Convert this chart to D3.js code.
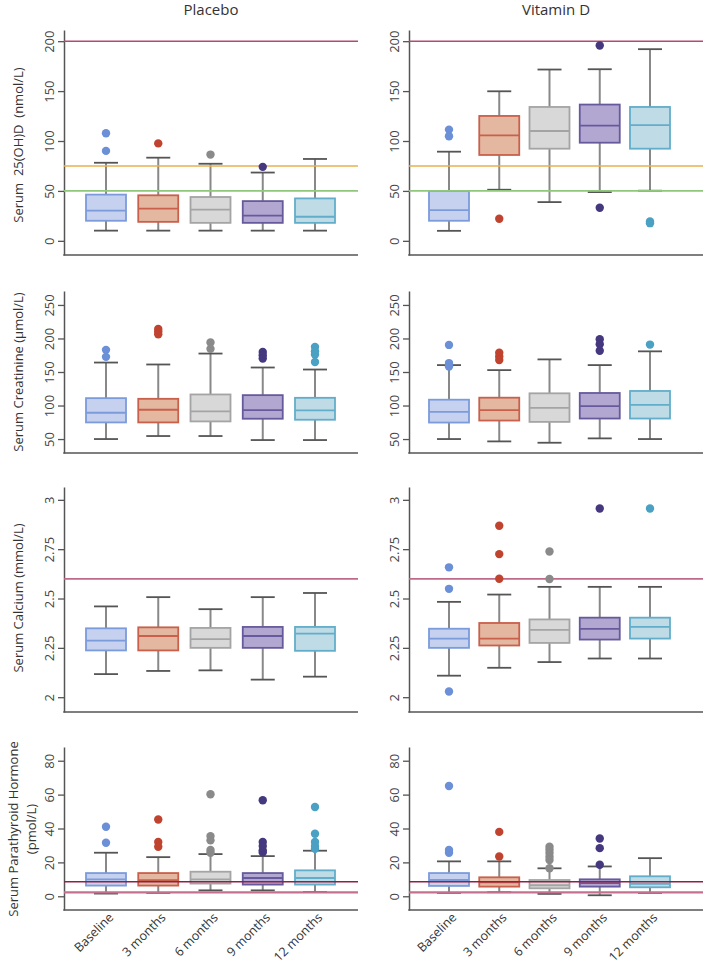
<!DOCTYPE html>
<html>
<head>
<meta charset="utf-8">
<script src="https://cdn.jsdelivr.net/npm/d3@7"></script>
<style>
  html, body { margin: 0; padding: 0; background: #fff; }
  svg { display: block; font-family: "Open Sans", "Noto Sans", sans-serif; }
</style>
</head>
<body>
<svg id="chart" width="703" height="967"></svg>
<script>
// ---------------- DATA ----------------
const categories = ["Baseline", "3 months", "6 months", "9 months", "12 months"];
const groups = ["Placebo", "Vitamin D"];
const measures = ["Serum  25(OH)D  (nmol/L)", "Serum Creatinine (\u03bcmol/L)", "Serum Calcium (mmol/L)", "Serum Parathyroid Hormone|(pmol/L)"];

// box stats per category: [lower whisker, Q1, median, Q3, upper whisker]
const vitdPlacebo = [[10.2, 20.1, 30.3, 46.3, 78.2], [10.2, 19.0, 32.3, 45.6, 83.3], [10.2, 18.0, 31.3, 43.9, 77.2], [10.2, 18.0, 25.2, 39.8, 68.4], [10.2, 18.0, 24.1, 42.5, 82.0]];
const vitdPlaceboOut = [[107.8, 90.1], [97.6], [86.4], [74.1], []];
const vitdTreated = [[10.0, 20.1, 30.8, 49.8, 89.3], [51.2, 86.0, 105.7, 125.1, 149.8], [38.8, 92.3, 110.0, 134.1, 171.6], [48.8, 98.3, 115.4, 136.5, 171.9], [50.2, 92.3, 116.0, 134.1, 192.0]];
const vitdTreatedOut = [[111.4, 104.7], [22.1], [], [195.7, 33.1], [19.4, 17.7]];

const creatPlacebo = [[50.0, 74.8, 89.2, 111.0, 164.1], [54.5, 74.8, 93.7, 110.0, 161.2], [54.5, 76.3, 91.2, 116.5, 177.5], [48.5, 80.3, 93.2, 115.5, 156.7], [48.5, 78.8, 92.7, 111.5, 153.7]];
const creatPlaceboOut = [[183.0, 172.6], [214.3, 210.3, 206.3], [194.0, 184.5], [180.0, 175.0, 170.1], [187.5, 181.0, 176.0, 165.0]];
const creatTreated = [[50.0, 74.6, 90.6, 108.7, 160.3], [46.5, 77.6, 93.1, 111.7, 152.8], [44.5, 75.6, 96.6, 118.2, 168.8], [51.0, 80.6, 99.1, 118.7, 160.3], [50.0, 80.6, 101.1, 121.7, 180.8]];
const creatTreatedOut = [[190.4, 163.3, 158.3], [178.8, 173.3, 167.8], [], [198.9, 191.4, 181.8], [190.9]];

const calcPlacebo = [[2.117, 2.237, 2.287, 2.349, 2.460], [2.133, 2.237, 2.310, 2.354, 2.507], [2.136, 2.250, 2.294, 2.351, 2.446], [2.089, 2.250, 2.310, 2.356, 2.507], [2.104, 2.235, 2.322, 2.356, 2.528]];
const calcPlaceboOut = [[], [], [], [], []];
const calcTreated = [[2.109, 2.250, 2.297, 2.347, 2.483], [2.149, 2.262, 2.297, 2.376, 2.520], [2.178, 2.275, 2.341, 2.394, 2.559], [2.196, 2.292, 2.346, 2.403, 2.559], [2.196, 2.297, 2.356, 2.403, 2.559]];
const calcTreatedOut = [[2.658, 2.549, 2.029], [2.869, 2.725, 2.600], [2.738, 2.599], [2.956], [2.956]];

const pthPlacebo = [[1.6, 6.3, 10.0, 13.7, 25.7], [2.0, 6.3, 9.5, 13.7, 23.1], [3.5, 7.5, 10.0, 14.5, 24.9], [3.5, 6.9, 10.8, 13.7, 23.7], [2.5, 6.9, 10.8, 15.3, 26.9]];
const pthPlaceboOut = [[41.0, 31.6], [45.3, 32.0, 29.2], [60.2, 35.5, 33.0, 27.3, 25.7], [56.7, 32.0, 29.6, 27.1, 25.9], [52.7, 36.9, 32.0, 29.6, 28.0]];
const pthTreated = [[2.0, 6.1, 9.6, 13.7, 20.6], [2.4, 5.7, 8.2, 11.2, 20.6], [1.4, 4.7, 6.5, 9.6, 16.5], [0.6, 5.7, 7.8, 10.0, 17.6], [2.0, 5.3, 7.3, 11.8, 22.5]];
const pthTreatedOut = [[65.1, 27.3, 25.7], [38.0, 23.5], [29.2, 27.5, 25.5, 23.3, 21.4, 16.5], [34.1, 28.4, 18.6], []];

// axis ticks and reference lines
const vitdTicks = [0, 50, 100, 150, 200];
const creatTicks = [50, 100, 150, 200, 250];
const calcTicks = [2, 2.25, 2.5, 2.75, 3];
const pthTicks = [0, 20, 40, 60, 80];
const vitdRefLines = [200, 75, 50];
const creatRefLines = [];
const calcRefLines = [2.6];
const pthRefLines = [8.6, 2.3];

// ---------------- STYLE / LAYOUT ----------------
const catFill   = ["#c5d1ef", "#e3b7a0", "#d8d8d8", "#b2a7d0", "#bedbe6"];
const catStroke = ["#7b9bdb", "#c9604b", "#a4a4a4", "#675a9c", "#62adc9"];
const catDot    = ["#6b90d8", "#c0432f", "#8a8a8a", "#45387f", "#4aa1c3"];
const refColors = {
  vitd: ["#b34a72", "#eab04e", "#90c77c"],
  creat: [],
  calc: ["#bf6a88"],
  pth: ["#931f45", "#c5708e"]
};
const refWidths = { vitd: [1.6, 1.4, 1.6], creat: [], calc: [1.8], pth: [1.4, 2.2] };

const cols = [
  { axisX: 64, right: 358, c0: 106, c1: 315, titleX: 211 },
  { axisX: 409, right: 703, c0: 449, c1: 650, titleX: 556 }
];
const rows = [
  { key: "vitd", top: 30, bottom: 255, domain: [-14.2, 211.2], ticks: vitdTicks, refs: vitdRefLines, data: [[vitdPlacebo, vitdPlaceboOut], [vitdTreated, vitdTreatedOut]], titleY: 145 },
  { key: "creat", top: 291, bottom: 453, domain: [29.2, 270.8], ticks: creatTicks, refs: creatRefLines, data: [[creatPlacebo, creatPlaceboOut], [creatTreated, creatTreatedOut]], titleY: 372 },
  { key: "calc", top: 487, bottom: 712, domain: [1.925, 3.065], ticks: calcTicks, refs: calcRefLines, data: [[calcPlacebo, calcPlaceboOut], [calcTreated, calcTreatedOut]], titleY: 598 },
  { key: "pth", top: 747, bottom: 910, domain: [-8.1, 88.1], ticks: pthTicks, refs: pthRefLines, data: [[pthPlacebo, pthPlaceboOut], [pthTreated, pthTreatedOut]], titleY: 829 }
];

const svg = d3.select("#chart");
const boxW = 40, capW = 24;

// column titles
cols.forEach((c, ci) => {
  svg.append("text")
    .attr("x", c.titleX).attr("y", 15)
    .attr("text-anchor", "middle")
    .attr("font-size", 15).attr("font-weight", 500)
    .attr("fill", "#333")
    .text(groups[ci]);
});

rows.forEach((r, ri) => {
  // y title
  const lines = measures[ri].split("|");
  const tt = svg.append("text")
    .attr("transform", `translate(${lines.length > 1 ? 13 : 18},${r.titleY}) rotate(-90)`)
    .attr("text-anchor", "middle")
    .attr("font-size", 13).attr("fill", "#333")
    .style("white-space", "pre");
  lines.forEach((l, li) => {
    tt.append("tspan").attr("x", 0).attr("dy", li === 0 ? "0.35em" : "1.45em").text(l);
  });

  cols.forEach((c, ci) => {
    const y = d3.scaleLinear().domain(r.domain).range([r.bottom, r.top]);
    const x = d3.scalePoint().domain(categories).range([c.c0, c.c1]);
    const g = svg.append("g");

    // axes
    const ax = g.append("g")
      .attr("transform", `translate(${c.axisX},0)`)
      .call(d3.axisLeft(y).tickValues(r.ticks).tickSize(6).tickSizeOuter(0).tickFormat(d => String(d)));
    ax.select(".domain").attr("stroke", "#555").attr("stroke-width", 1.5);
    ax.selectAll(".tick line").attr("stroke", "#555").attr("stroke-width", 1.3);
    ax.selectAll(".tick text")
      .attr("transform", "rotate(-90)")
      .attr("x", 0).attr("y", -10.5).attr("dy", 0)
      .attr("text-anchor", "middle")
      .attr("font-size", 13).attr("fill", "#444")
      .attr("font-family", "'Open Sans', 'Noto Sans', sans-serif");

    g.append("line")
      .attr("x1", c.axisX - 0.75).attr("x2", c.right)
      .attr("y1", r.bottom).attr("y2", r.bottom)
      .attr("stroke", "#555").attr("stroke-width", 1.5);

    const [stats, outs] = r.data[ci];

    // boxes
    stats.forEach((s, k) => {
      const cx = x(categories[k]);
      const [lo, q1, med, q3, hi] = s;
      g.append("line").attr("x1", cx).attr("x2", cx).attr("y1", y(q3)).attr("y2", y(hi))
        .attr("stroke", "#888").attr("stroke-width", 2);
      g.append("line").attr("x1", cx).attr("x2", cx).attr("y1", y(lo)).attr("y2", y(q1))
        .attr("stroke", "#888").attr("stroke-width", 2);
      [lo, hi].forEach(v => {
        g.append("line").attr("x1", cx - capW / 2).attr("x2", cx + capW / 2)
          .attr("y1", y(v)).attr("y2", y(v))
          .attr("stroke", "#555").attr("stroke-width", 1.8);
      });
      g.append("rect")
        .attr("x", cx - boxW / 2).attr("width", boxW)
        .attr("y", y(q3)).attr("height", y(q1) - y(q3))
        .attr("fill", catFill[k]).attr("stroke", catStroke[k]).attr("stroke-width", 1.8);
      g.append("line").attr("x1", cx - boxW / 2).attr("x2", cx + boxW / 2)
        .attr("y1", y(med)).attr("y2", y(med))
        .attr("stroke", catStroke[k]).attr("stroke-width", 1.8);
    });

    // reference lines
    r.refs.forEach((v, k) => {
      g.append("line")
        .attr("x1", c.axisX).attr("x2", c.right)
        .attr("y1", y(v)).attr("y2", y(v))
        .attr("stroke", refColors[r.key][k]).attr("stroke-width", refWidths[r.key][k]);
    });

    // outliers
    outs.forEach((arr, k) => {
      const cx = x(categories[k]);
      arr.forEach(v => {
        g.append("circle").attr("cx", cx).attr("cy", y(v)).attr("r", 4.2).attr("fill", catDot[k]);
      });
    });

    // x labels on bottom row
    if (ri === rows.length - 1) {
      categories.forEach(cat => {
        g.append("text")
          .attr("transform", `translate(${x(cat) + 2},${r.bottom + 2}) rotate(-45)`)
          .attr("text-anchor", "end")
          .attr("dy", "0.7em")
          .attr("font-size", 12.5).attr("fill", "#333")
          .text(cat);
      });
    }
  });
});
</script>
</body>
</html>
